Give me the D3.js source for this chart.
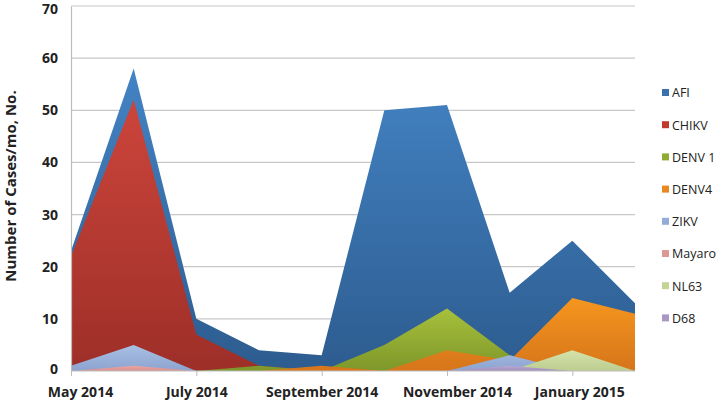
<!DOCTYPE html>
<html><head><meta charset="utf-8">
<script src="https://cdn.jsdelivr.net/npm/d3@7"></script>
<style>
body{margin:0;background:#fff;}
svg{display:block;}
text{font-family:"Open Sans",sans-serif;}
</style></head><body>
<svg id="c" width="716" height="402"></svg>
<script>
const months = ["May 2014","Jun 2014","July 2014","Aug 2014","September 2014","Oct 2014","November 2014","Dec 2014","January 2015","Feb 2015"];
const tickMonths = ["May 2014","July 2014","September 2014","November 2014","January 2015"];
const yTicks = [0,10,20,30,40,50,60,70];
const seriesNames = ["AFI","CHIKV","DENV 1","DENV4","ZIKV","Mayaro","NL63","D68"];
const AFI    = [23,58,10,4,3,50,51,15,25,13];
const CHIKV  = [22,52,7,1,0,0,0,0,0,0];
const DENV1  = [0,0,0,1,0,5,12,3,0,0];
const DENV4  = [0,0,0,0,1,0,4,2,14,11];
const ZIKV   = [1,5,0,0,0,0,0,3,0,0];
const Mayaro = [0,1,0,0,0,0,0,0,0,0];
const NL63   = [0,0,0,0,0,0,0,0,4,0];
const D68    = [0,0,0,0,0,0,0,1,0,0];
const seriesValues = [AFI,CHIKV,DENV1,DENV4,ZIKV,Mayaro,NL63,D68];
const colorsTop = ["#4383c4","#cc453b","#a8c03c","#f5961f","#aac0e4","#eaa6a4","#d5e3ab","#b9a8d2"];
const colorsBot = ["#2d5c8f","#9d2f28","#7d972a","#d6751a","#8ba3cf","#d88f8e","#bccd8f","#a08fbc"];
const legendColors = ["#3a72b0","#c0392f","#8fab33","#e98820","#93acd8","#dc9896","#c3d498","#a998c4"];

const svg = d3.select("#c");
const m = {l:71, r:635, t:6, b:371};
const x = d3.scalePoint().domain(months).range([m.l, m.r]);
const y = d3.scaleLinear().domain([0,70]).range([m.b, m.t]);

// gridlines
svg.append("g").selectAll("line").data(yTicks.filter(d=>d>0)).join("line")
  .attr("x1", m.l).attr("x2", m.r).attr("y1", d=>y(d)).attr("y2", d=>y(d))
  .attr("stroke","#c8c8c8").attr("stroke-width",1.2);

// gradients
const defs = svg.append("defs");
seriesNames.forEach((n,i)=>{
  const g = defs.append("linearGradient").attr("id","g"+i).attr("x1",0).attr("y1",0).attr("x2",0).attr("y2",1);
  g.append("stop").attr("offset","0%").attr("stop-color",colorsTop[i]);
  g.append("stop").attr("offset","100%").attr("stop-color",colorsBot[i]);
});

const area = d3.area().x((d,i)=>x(months[i])).y0(y(0)).y1(d=>y(d));
svg.append("g").selectAll("path").data(seriesValues).join("path")
  .attr("d", d=>area(d)).attr("fill",(d,i)=>"url(#g"+i+")");

// y axis
const ya = svg.append("g").attr("transform",`translate(${m.l},0)`)
  .call(d3.axisLeft(y).tickValues(yTicks).tickSize(0).tickPadding(13));
ya.select(".domain").attr("stroke","#bdbdbd").attr("stroke-width",1.2);
ya.selectAll("text").attr("font-size",14).attr("font-weight",700).attr("fill","#222");
ya.selectAll(".tick").filter(d=>d===70).select("text").attr("dy","0.5em");
ya.selectAll(".tick").filter(d=>d===0).select("text").attr("dy","0.2em");

// x axis
const xa = svg.append("g").attr("transform",`translate(0,${m.b})`)
  .call(d3.axisBottom(x).tickValues(tickMonths).tickSize(5).tickPadding(11));
xa.select(".domain").attr("stroke","#bdbdbd").attr("stroke-width",1.2).attr("d",`M${m.l},0H${m.r}`);
xa.selectAll(".tick line").attr("stroke","#bdbdbd");
const labelShift = {"May 2014":9,"November 2014":10,"January 2015":7};
xa.selectAll("text").attr("font-size",14).attr("font-weight",700).attr("fill","#222")
  .attr("dx", d=>labelShift[d]||0);

// y title
svg.append("text").attr("transform","translate(16,186) rotate(-90)")
  .attr("text-anchor","middle").attr("font-size",15).attr("font-weight",700).attr("fill","#222")
  .text("Number of Cases/mo, No.");

// legend
const lg = svg.append("g").selectAll("g").data(seriesNames).join("g")
  .attr("transform",(d,i)=>`translate(662,${93+i*32.2})`);
lg.append("rect").attr("x",0).attr("y",-4).attr("width",7).attr("height",7).attr("fill",(d,i)=>legendColors[i]);
lg.append("text").attr("x",10).attr("y",0).attr("dy","0.35em").attr("font-size",12.5).attr("fill","#222").text(d=>d);
</script>
</body></html>
